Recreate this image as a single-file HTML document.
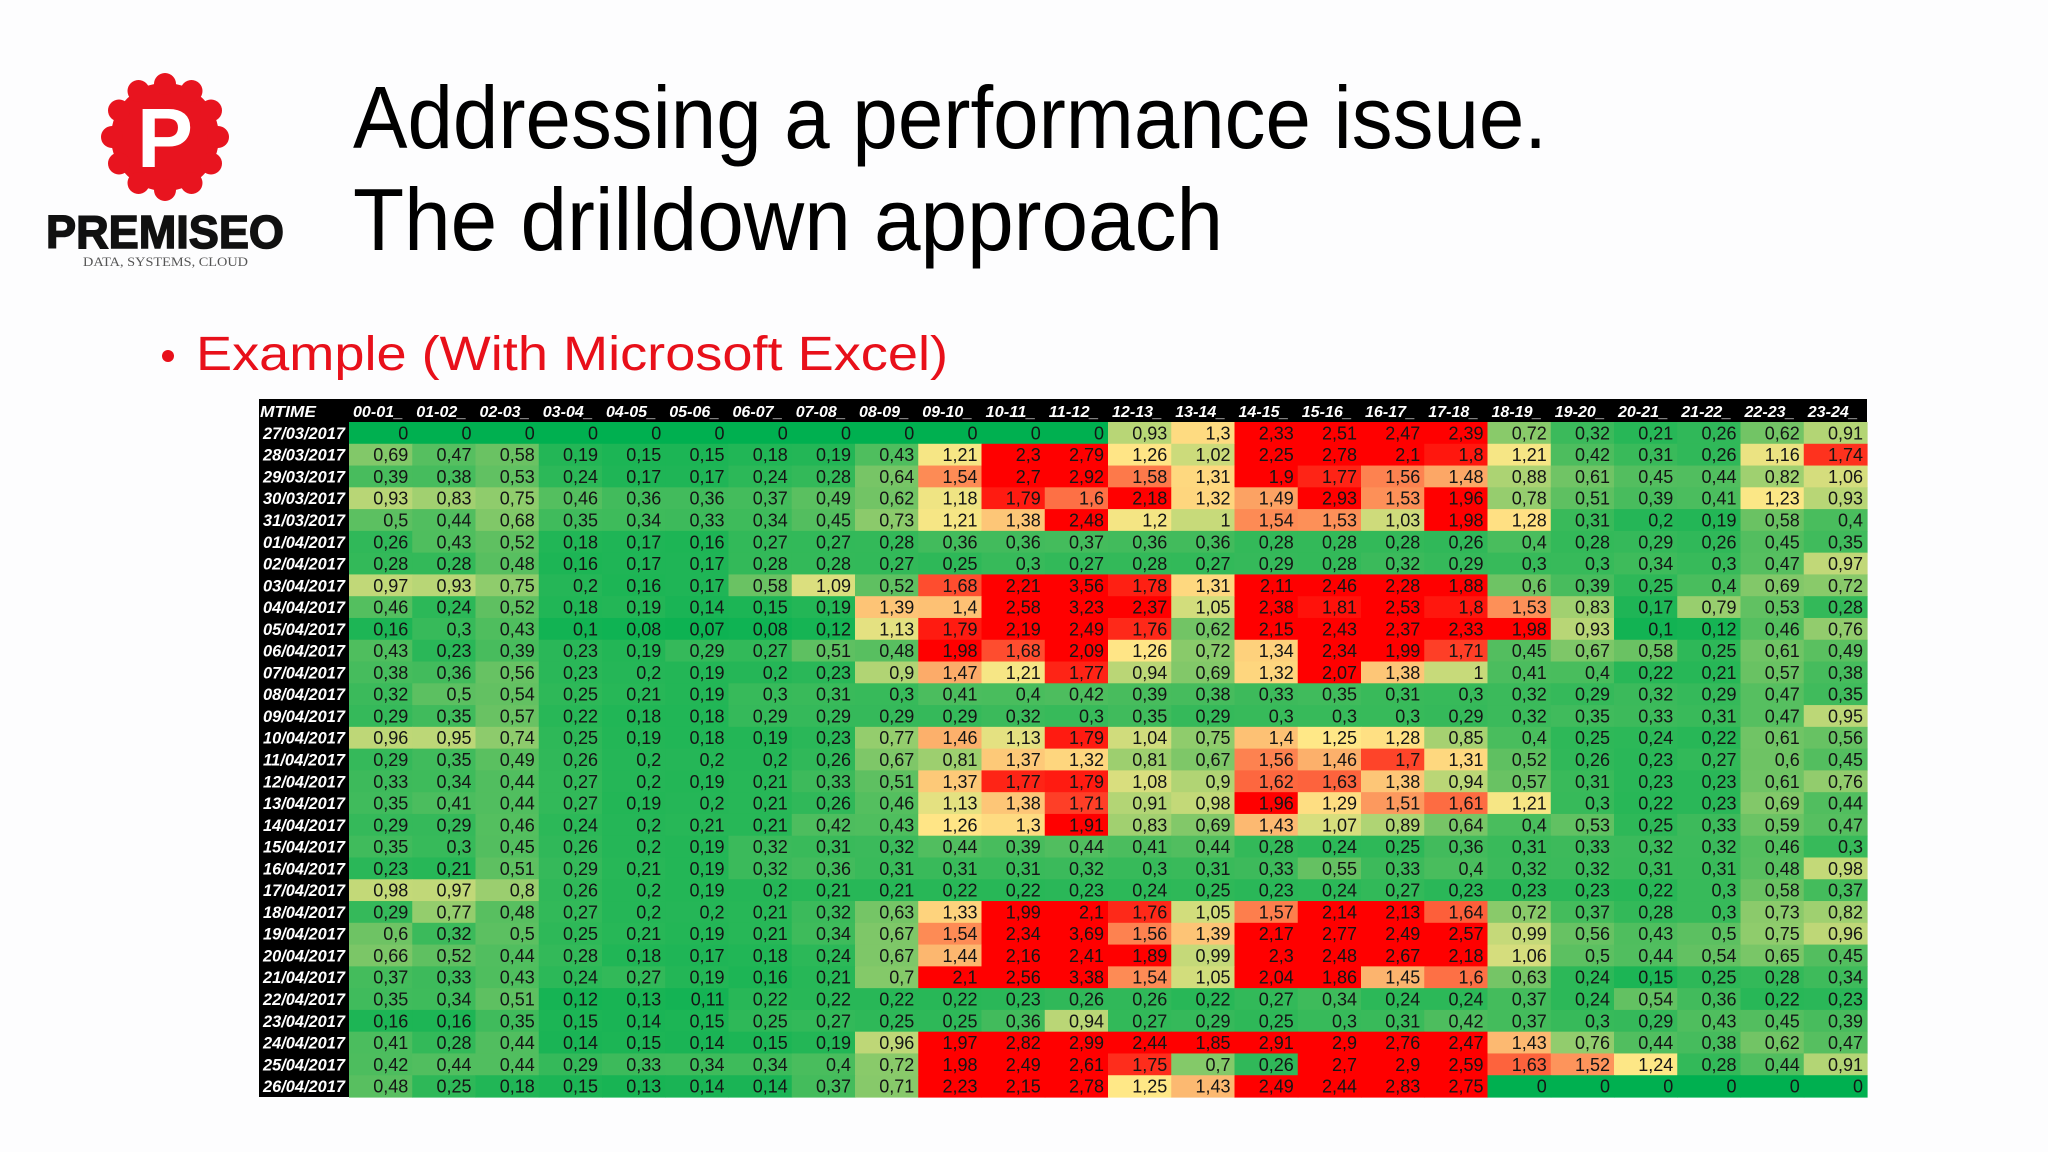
<!DOCTYPE html>
<html><head><meta charset="utf-8"><style>
html,body{margin:0;padding:0;background:#fff;}
body{width:2048px;height:1152px;overflow:hidden;position:relative;}
svg{position:absolute;left:0;top:0;}
</style></head><body>
<svg id="slide" width="2048" height="1152" viewBox="0 0 2048 1152">
  <rect x="0" y="0" width="2048" height="1152" fill="#fdfdfe"/>
  <g>
    <g fill="#e8141f">
      <circle cx="165" cy="137" r="54"/>
      <circle cx="165" cy="84" r="11"/><circle cx="165" cy="190" r="11"/>
      <circle cx="112" cy="137" r="11"/><circle cx="218" cy="137" r="11"/>
      <circle cx="191.5" cy="91" r="11"/><circle cx="138.5" cy="91" r="11"/>
      <circle cx="191.5" cy="183" r="11"/><circle cx="138.5" cy="183" r="11"/>
      <circle cx="211" cy="110.5" r="11"/><circle cx="119" cy="110.5" r="11"/>
      <circle cx="211" cy="163.5" r="11"/><circle cx="119" cy="163.5" r="11"/>
    </g>
    <text x="165" y="167" text-anchor="middle" font-family="Liberation Sans, sans-serif" font-weight="bold" font-size="84" fill="#fff">P</text>
    <text x="46" y="248" textLength="238" lengthAdjust="spacingAndGlyphs" font-family="Liberation Sans, sans-serif" font-weight="bold" font-size="46" fill="#111" stroke="#111" stroke-width="1.5">PREMISEO</text>
    <text x="83" y="266" textLength="165" lengthAdjust="spacingAndGlyphs" font-family="Liberation Serif, serif" font-size="13" fill="#555">DATA, SYSTEMS, CLOUD</text>
  </g>
  <g font-family="Liberation Sans, sans-serif" font-size="88" fill="#000">
    <text x="353" y="148" textLength="1194" lengthAdjust="spacingAndGlyphs">Addressing a performance issue.</text>
    <text x="353" y="250" textLength="870" lengthAdjust="spacingAndGlyphs">The drilldown approach</text>
  </g>
  <circle cx="168" cy="356" r="6" fill="#e8101a"/>
  <text x="196" y="370" textLength="752" lengthAdjust="spacingAndGlyphs" font-family="Liberation Sans, sans-serif" font-size="48" fill="#e8101a">Example (With Microsoft Excel)</text>
  <g id="heatmap"></g>
</svg>
<script>
const hours = ["00-01_","01-02_","02-03_","03-04_","04-05_","05-06_","06-07_","07-08_","08-09_","09-10_","10-11_","11-12_","12-13_","13-14_","14-15_","15-16_","16-17_","17-18_","18-19_","19-20_","20-21_","21-22_","22-23_","23-24_"];
const r0 = [0,0,0,0,0,0,0,0,0,0,0,0,0.93,1.3,2.33,2.51,2.47,2.39,0.72,0.32,0.21,0.26,0.62,0.91];
const r1 = [0.69,0.47,0.58,0.19,0.15,0.15,0.18,0.19,0.43,1.21,2.3,2.79,1.26,1.02,2.25,2.78,2.1,1.8,1.21,0.42,0.31,0.26,1.16,1.74];
const r2 = [0.39,0.38,0.53,0.24,0.17,0.17,0.24,0.28,0.64,1.54,2.7,2.92,1.58,1.31,1.9,1.77,1.56,1.48,0.88,0.61,0.45,0.44,0.82,1.06];
const r3 = [0.93,0.83,0.75,0.46,0.36,0.36,0.37,0.49,0.62,1.18,1.79,1.6,2.18,1.32,1.49,2.93,1.53,1.96,0.78,0.51,0.39,0.41,1.23,0.93];
const r4 = [0.5,0.44,0.68,0.35,0.34,0.33,0.34,0.45,0.73,1.21,1.38,2.48,1.2,1,1.54,1.53,1.03,1.98,1.28,0.31,0.2,0.19,0.58,0.4];
const r5 = [0.26,0.43,0.52,0.18,0.17,0.16,0.27,0.27,0.28,0.36,0.36,0.37,0.36,0.36,0.28,0.28,0.28,0.26,0.4,0.28,0.29,0.26,0.45,0.35];
const r6 = [0.28,0.28,0.48,0.16,0.17,0.17,0.28,0.28,0.27,0.25,0.3,0.27,0.28,0.27,0.29,0.28,0.32,0.29,0.3,0.3,0.34,0.3,0.47,0.97];
const r7 = [0.97,0.93,0.75,0.2,0.16,0.17,0.58,1.09,0.52,1.68,2.21,3.56,1.78,1.31,2.11,2.46,2.28,1.88,0.6,0.39,0.25,0.4,0.69,0.72];
const r8 = [0.46,0.24,0.52,0.18,0.19,0.14,0.15,0.19,1.39,1.4,2.58,3.23,2.37,1.05,2.38,1.81,2.53,1.8,1.53,0.83,0.17,0.79,0.53,0.28];
const r9 = [0.16,0.3,0.43,0.1,0.08,0.07,0.08,0.12,1.13,1.79,2.19,2.49,1.76,0.62,2.15,2.43,2.37,2.33,1.98,0.93,0.1,0.12,0.46,0.76];
const r10 = [0.43,0.23,0.39,0.23,0.19,0.29,0.27,0.51,0.48,1.98,1.68,2.09,1.26,0.72,1.34,2.34,1.99,1.71,0.45,0.67,0.58,0.25,0.61,0.49];
const r11 = [0.38,0.36,0.56,0.23,0.2,0.19,0.2,0.23,0.9,1.47,1.21,1.77,0.94,0.69,1.32,2.07,1.38,1,0.41,0.4,0.22,0.21,0.57,0.38];
const r12 = [0.32,0.5,0.54,0.25,0.21,0.19,0.3,0.31,0.3,0.41,0.4,0.42,0.39,0.38,0.33,0.35,0.31,0.3,0.32,0.29,0.32,0.29,0.47,0.35];
const r13 = [0.29,0.35,0.57,0.22,0.18,0.18,0.29,0.29,0.29,0.29,0.32,0.3,0.35,0.29,0.3,0.3,0.3,0.29,0.32,0.35,0.33,0.31,0.47,0.95];
const r14 = [0.96,0.95,0.74,0.25,0.19,0.18,0.19,0.23,0.77,1.46,1.13,1.79,1.04,0.75,1.4,1.25,1.28,0.85,0.4,0.25,0.24,0.22,0.61,0.56];
const r15 = [0.29,0.35,0.49,0.26,0.2,0.2,0.2,0.26,0.67,0.81,1.37,1.32,0.81,0.67,1.56,1.46,1.7,1.31,0.52,0.26,0.23,0.27,0.6,0.45];
const r16 = [0.33,0.34,0.44,0.27,0.2,0.19,0.21,0.33,0.51,1.37,1.77,1.79,1.08,0.9,1.62,1.63,1.38,0.94,0.57,0.31,0.23,0.23,0.61,0.76];
const r17 = [0.35,0.41,0.44,0.27,0.19,0.2,0.21,0.26,0.46,1.13,1.38,1.71,0.91,0.98,1.96,1.29,1.51,1.61,1.21,0.3,0.22,0.23,0.69,0.44];
const r18 = [0.29,0.29,0.46,0.24,0.2,0.21,0.21,0.42,0.43,1.26,1.3,1.91,0.83,0.69,1.43,1.07,0.89,0.64,0.4,0.53,0.25,0.33,0.59,0.47];
const r19 = [0.35,0.3,0.45,0.26,0.2,0.19,0.32,0.31,0.32,0.44,0.39,0.44,0.41,0.44,0.28,0.24,0.25,0.36,0.31,0.33,0.32,0.32,0.46,0.3];
const r20 = [0.23,0.21,0.51,0.29,0.21,0.19,0.32,0.36,0.31,0.31,0.31,0.32,0.3,0.31,0.33,0.55,0.33,0.4,0.32,0.32,0.31,0.31,0.48,0.98];
const r21 = [0.98,0.97,0.8,0.26,0.2,0.19,0.2,0.21,0.21,0.22,0.22,0.23,0.24,0.25,0.23,0.24,0.27,0.23,0.23,0.23,0.22,0.3,0.58,0.37];
const r22 = [0.29,0.77,0.48,0.27,0.2,0.2,0.21,0.32,0.63,1.33,1.99,2.1,1.76,1.05,1.57,2.14,2.13,1.64,0.72,0.37,0.28,0.3,0.73,0.82];
const r23 = [0.6,0.32,0.5,0.25,0.21,0.19,0.21,0.34,0.67,1.54,2.34,3.69,1.56,1.39,2.17,2.77,2.49,2.57,0.99,0.56,0.43,0.5,0.75,0.96];
const r24 = [0.66,0.52,0.44,0.28,0.18,0.17,0.18,0.24,0.67,1.44,2.16,2.41,1.89,0.99,2.3,2.48,2.67,2.18,1.06,0.5,0.44,0.54,0.65,0.45];
const r25 = [0.37,0.33,0.43,0.24,0.27,0.19,0.16,0.21,0.7,2.1,2.56,3.38,1.54,1.05,2.04,1.86,1.45,1.6,0.63,0.24,0.15,0.25,0.28,0.34];
const r26 = [0.35,0.34,0.51,0.12,0.13,0.11,0.22,0.22,0.22,0.22,0.23,0.26,0.26,0.22,0.27,0.34,0.24,0.24,0.37,0.24,0.54,0.36,0.22,0.23];
const r27 = [0.16,0.16,0.35,0.15,0.14,0.15,0.25,0.27,0.25,0.25,0.36,0.94,0.27,0.29,0.25,0.3,0.31,0.42,0.37,0.3,0.29,0.43,0.45,0.39];
const r28 = [0.41,0.28,0.44,0.14,0.15,0.14,0.15,0.19,0.96,1.97,2.82,2.99,2.44,1.85,2.91,2.9,2.76,2.47,1.43,0.76,0.44,0.38,0.62,0.47];
const r29 = [0.42,0.44,0.44,0.29,0.33,0.34,0.34,0.4,0.72,1.98,2.49,2.61,1.75,0.7,0.26,2.7,2.9,2.59,1.63,1.52,1.24,0.28,0.44,0.91];
const r30 = [0.48,0.25,0.18,0.15,0.13,0.14,0.14,0.37,0.71,2.23,2.15,2.78,1.25,1.43,2.49,2.44,2.83,2.75,0,0,0,0,0,0];
const dateLabels = ["27/03/2017","28/03/2017","29/03/2017","30/03/2017","31/03/2017","01/04/2017","02/04/2017","03/04/2017","04/04/2017","05/04/2017","06/04/2017","07/04/2017","08/04/2017","09/04/2017","10/04/2017","11/04/2017","12/04/2017","13/04/2017","14/04/2017","15/04/2017","16/04/2017","17/04/2017","18/04/2017","19/04/2017","20/04/2017","21/04/2017","22/04/2017","23/04/2017","24/04/2017","25/04/2017","26/04/2017"];
const rows = [r0,r1,r2,r3,r4,r5,r6,r7,r8,r9,r10,r11,r12,r13,r14,r15,r16,r17,r18,r19,r20,r21,r22,r23,r24,r25,r26,r27,r28,r29,r30];

const NS = "http://www.w3.org/2000/svg";
const g = document.getElementById('heatmap');
const L = 259, dateW = 90, R = 1867, T = 399, headH = 23, B = 1097;
const colW = (R - L - dateW) / hours.length;
const rowH = (B - T - headH) / rows.length;
const xCol = i => L + dateW + i * colW;
const yRow = j => T + headH + j * rowH;
const stops = [[0,[0,176,80]],[0.6,[110,195,100]],[1.25,[255,232,135]],[1.45,[252,180,110]],[1.85,[255,0,0]]];
function colorFor(v){
  if (v <= stops[0][0]) return 'rgb(' + stops[0][1].join(',') + ')';
  for (let k = 1; k < stops.length; k++) {
    if (v <= stops[k][0]) {
      const a = stops[k-1], b = stops[k], t = (v - a[0]) / (b[0] - a[0]);
      return 'rgb(' + a[1].map((c, n) => Math.round(c + (b[1][n] - c) * t)).join(',') + ')';
    }
  }
  return 'rgb(255,0,0)';
}
function mk(tag, attrs){ const e = document.createElementNS(NS, tag); for (const k in attrs) e.setAttribute(k, attrs[k]); return e; }

const head = mk('rect', {x:L, y:T, width:R-L, height:headH, fill:'#000'});


g.appendChild(head);
const side = mk('rect', {x:L, y:T+headH, width:dateW, height:B-T-headH, fill:'#000'});


g.appendChild(side);

const mt = mk('text', {x:L+1, y:T+18, 'font-family':'Liberation Sans, sans-serif', 'font-size':'16', 'font-weight':'bold', 'font-style':'italic', fill:'#fff', textLength:'56', lengthAdjust:'spacingAndGlyphs'});
mt.textContent = 'MTIME';


g.appendChild(mt);

hours.forEach((h, i) => {
  const t = mk('text', {x:xCol(i)+4, y:T+18, 'font-family':'Liberation Sans, sans-serif', 'font-size':'16', 'font-weight':'bold', 'font-style':'italic', fill:'#fff', textLength:'50', lengthAdjust:'spacingAndGlyphs'});
  t.textContent = h;
  
  
  g.appendChild(t);
});

rows.forEach((row, j) => {
  const d = mk('text', {x:L+4, y:yRow(j)+rowH/2+6, 'font-family':'Liberation Sans, sans-serif', 'font-size':'17', 'font-weight':'bold', 'font-style':'italic', fill:'#fff', textLength:'82', lengthAdjust:'spacingAndGlyphs'});
  d.textContent = dateLabels[j];
  
  
  g.appendChild(d);
  row.forEach((v, i) => {
    const c = mk('rect', {x:xCol(i), y:yRow(j), width:colW+0.6, height:rowH+0.6, fill:colorFor(v)});
    
    
    g.appendChild(c);
    const t = mk('text', {x:xCol(i)+colW-4, y:yRow(j)+rowH/2+6.5, 'text-anchor':'end', 'font-family':'Liberation Sans, sans-serif', 'font-size':'18', fill:'#151515'});
    t.textContent = String(v).replace('.', ',');
    
    
    g.appendChild(t);
  });
});
</script>
</body></html>
